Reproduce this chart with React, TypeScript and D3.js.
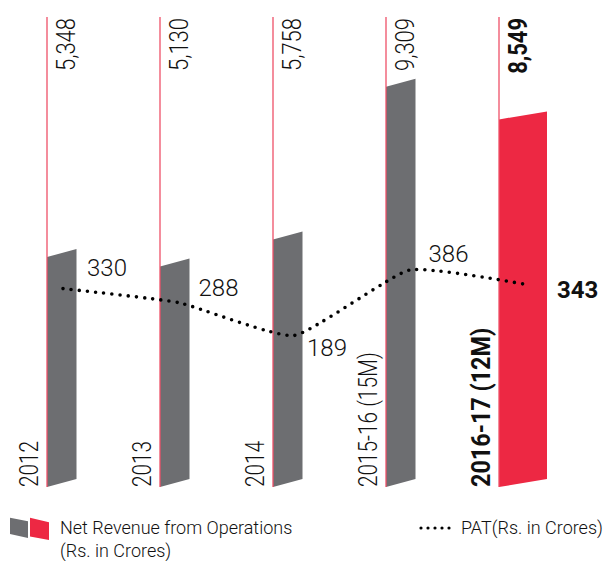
import * as d3 from "d3";

const years = ["2012", "2013", "2014", "2015-16 (15M)", "2016-17 (12M)"];
const revenue = [5348, 5130, 5758, 9309, 8549];
const revenueLabels = ["5,348", "5,130", "5,758", "9,309", "8,549"];
const pat = [330, 288, 189, 386, 343];

// where each PAT number sits relative to its point (dx, dy)
const patLabelOffset = [
  [24, -13],
  [20, -7],
  [13, 20],
  [19, -8],
  [32, 14],
];

const width = 612;
const height = 561;
const base = 487;
const lineTop = 17;
const grey = "#6d6e71";
const red = "#ed2843";
const font = "Roboto, sans-serif";

export default function App() {
  const last = years.length - 1;
  const x = d3.scalePoint().domain(years).range([47, 499]);
  const y = d3.scaleLinear().domain([0, 10000]).range([base, 57]);
  const px = d3.scalePoint().domain(years).range([63, 525]);
  const py = d3.scaleLinear().domain([189, 386]).range([335.5, 270]);
  const slant = 8;
  const barW = (i: number) => (i === last ? 48 : 29.5);

  const patLine = d3
    .line<number>()
    .x((d, i) => px(years[i])!)
    .y((d) => py(d))
    .curve(d3.curveCardinal.tension(0.55));

  return (
    <svg
      width={width}
      height={height}
      style={{ position: "absolute", left: 0, top: 0, display: "block" }}
      fontFamily={font}
    >
      {revenue.map((v, i) => {
        const x0 = x(years[i])!;
        const w = barW(i);
        const yt = y(v);
        return (
          <g key={years[i]}>
            <path
              d={`M${x0},${yt}L${x0 + w},${yt - slant}L${x0 + w},${base - slant}L${x0},${base}Z`}
              fill={i === last ? red : grey}
            />
            <line
              x1={x0}
              x2={x0}
              y1={lineTop}
              y2={base}
              stroke="#ef5068"
              strokeWidth={1.3}
            />
            <text
              transform={`translate(${x0 + 28},18) rotate(-90) scale(0.88,1)`}
              textAnchor="end"
              fontSize={25}
              fontWeight={i === last ? 700 : 300}
              fill="#111"
            >
              {revenueLabels[i]}
            </text>
            <text
              transform={`translate(${x0 - 9},${base}) rotate(-90) scale(${i === last ? 0.9 : 0.8},1)`}
              fontSize={26}
              fontWeight={i === last ? 700 : 300}
              fill="#111"
            >
              {years[i]}
            </text>
          </g>
        );
      })}

      <path
        d={patLine(pat)!}
        fill="none"
        stroke="#000"
        strokeWidth={3.6}
        strokeLinecap="round"
        strokeDasharray="0 8.2"
      />
      {pat.map((v, i) => (
        <text
          key={"p" + i}
          x={px(years[i])! + patLabelOffset[i][0]}
          y={py(v) + patLabelOffset[i][1]}
          fontSize={24}
          fontWeight={i === last ? 700 : 300}
          fill="#111"
        >
          {v}
        </text>
      ))}

      {/* legend */}
      <path d="M10,517.7L28,521.3L28,538L10,534Z" fill={grey} />
      <path d="M30,517.7L49,522.3L49,540L30,536.5Z" fill={red} />
      <text x={60} y={534} fontSize={18} fontWeight={300} fill="#111">
        Net Revenue from Operations
      </text>
      <text x={60} y={557} fontSize={18} fontWeight={300} fill="#111">
        (Rs. in Crores)
      </text>
      <line
        x1={421}
        x2={456}
        y1={528}
        y2={528}
        stroke="#000"
        strokeWidth={3.2}
        strokeLinecap="round"
        strokeDasharray="0 7"
      />
      <text x={461} y={534} fontSize={18} fontWeight={300} fill="#111">
        PAT(Rs. in Crores)
      </text>
    </svg>
  );
}
